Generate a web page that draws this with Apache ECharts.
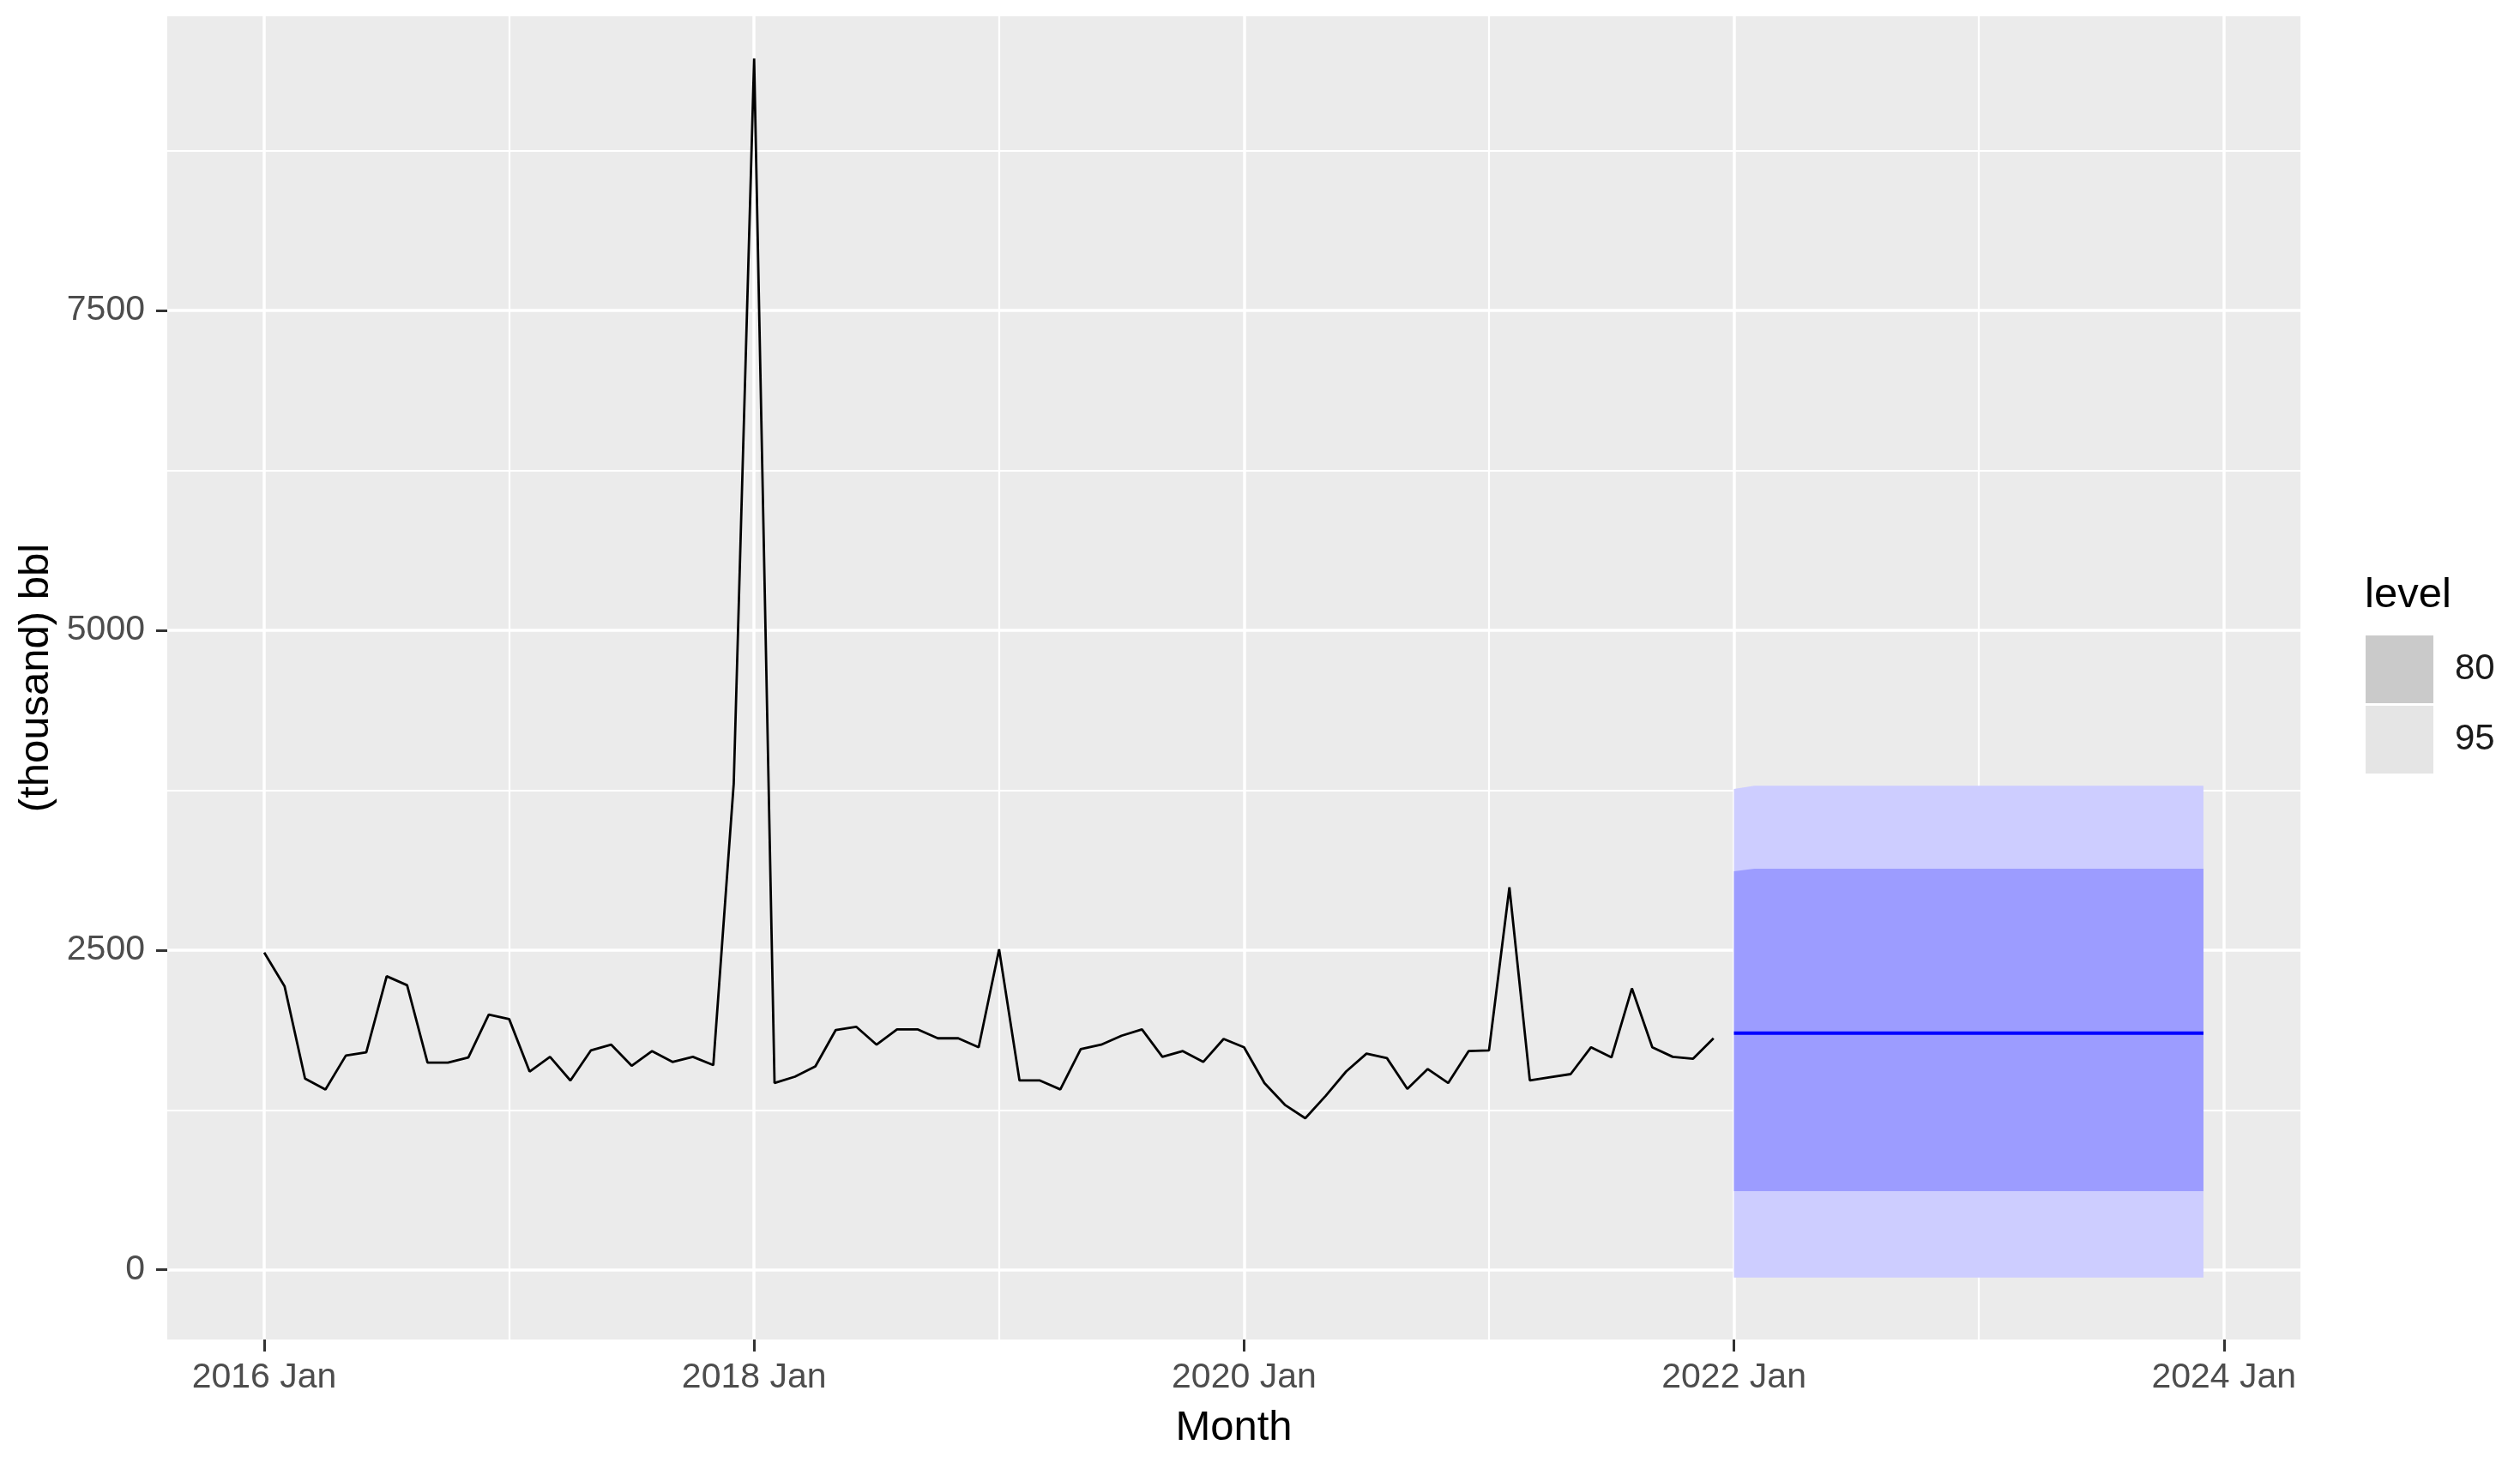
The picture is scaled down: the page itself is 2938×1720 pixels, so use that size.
<!DOCTYPE html>
<html>
<head>
<meta charset="utf-8">
<title>Forecast</title>
<script src="https://cdn.jsdelivr.net/npm/echarts@6/dist/echarts.min.js"></script>
<style>
  html, body { margin: 0; padding: 0; background: #fff; }
  #chart { width: 2938px; height: 1720px; }
</style>
</head>
<body>
<div id="chart"></div>
<script>
// monthly history, 2016 Jan .. 2021 Dec (thousand bbl)
const histValues = [
  2480, 2215, 1495, 1410, 1675, 1700, 2295, 2225, 1620, 1620, 1660, 1995,
  1960, 1550, 1665, 1480, 1715, 1760, 1595, 1710, 1625, 1665, 1600, 3800,
  9470, 1460, 1510, 1590, 1875, 1900, 1760, 1880, 1880, 1810, 1810, 1740,
  2505, 1480, 1480, 1410, 1725, 1760, 1830, 1880, 1665, 1710, 1625, 1805,
  1740, 1460, 1290, 1185, 1360, 1550, 1690, 1655, 1415, 1570, 1460, 1710,
  1715, 2990, 1480, 1505, 1530, 1740, 1660, 2200, 1740, 1665, 1650, 1810
]

// forecast, 2022 Jan .. 2023 Dec
const fcMean = [
  1850, 1850, 1850, 1850, 1850, 1850, 1850, 1850, 1850, 1850, 1850, 1850,
  1850, 1850, 1850, 1850, 1850, 1850, 1850, 1850, 1850, 1850, 1850, 1850
]
const fcHi80 = [
  3115, 3135, 3135, 3135, 3135, 3135, 3135, 3135, 3135, 3135, 3135, 3135,
  3135, 3135, 3135, 3135, 3135, 3135, 3135, 3135, 3135, 3135, 3135, 3135
]
const fcLo80 = [
  615, 615, 615, 615, 615, 615, 615, 615, 615, 615, 615, 615,
  615, 615, 615, 615, 615, 615, 615, 615, 615, 615, 615, 615
]
const fcHi95 = [
  3760, 3785, 3785, 3785, 3785, 3785, 3785, 3785, 3785, 3785, 3785, 3785,
  3785, 3785, 3785, 3785, 3785, 3785, 3785, 3785, 3785, 3785, 3785, 3785
]
const fcLo95 = [
  -60, -60, -60, -60, -60, -60, -60, -60, -60, -60, -60, -60,
  -60, -60, -60, -60, -60, -60, -60, -60, -60, -60, -60, -60
]

// x is months since 2016 Jan
const fcStart = histValues.length
const xTickValues = [0, 24, 48, 72, 96]
const xTickLabels = ['2016 Jan', '2018 Jan', '2020 Jan', '2022 Jan', '2024 Jan']
const xMinorValues = [12, 36, 60, 84]
const yTickValues = [0, 2500, 5000, 7500]
const yMinorValues = [1250, 3750, 6250, 8750]

const histData = histValues.map((v, i) => [i, v])
const fcMonths = fcMean.map((v, k) => fcStart + k)
const fcData = fcMean.map((v, k) => [fcMonths[k], v])

// one polygon per interval band, built on the first item
const band = (lo, hi, fill) => (params, api) => {
  if (params.dataIndex !== 0) return null
  const pts = []
  for (let k = 0; k < fcMonths.length; k++) pts.push(api.coord([fcMonths[k], hi[k]]))
  for (let k = fcMonths.length - 1; k >= 0; k--) pts.push(api.coord([fcMonths[k], lo[k]]))
  return { type: 'polygon', shape: { points: pts }, style: { fill: fill } }
}

const xMin = -4.75, xMax = 99.75
const yMin = -545, yMax = 9800
const font = 'Liberation Sans'

const chart = echarts.init(document.getElementById('chart'))

const option = {
  animation: false,
  backgroundColor: '#ffffff',
  textStyle: { fontFamily: font },
  title: {
    text: 'level',
    left: 2752,
    top: 665,
    textStyle: { fontSize: 49, fontWeight: 'normal', color: '#000', fontFamily: font }
  },
  legend: {
    left: 2758,
    top: 741,
    orient: 'vertical',
    itemWidth: 79,
    itemHeight: 79,
    itemGap: 3,
    selectedMode: false,
    padding: 0,
    data: [
      { name: '80', icon: 'rect', itemStyle: { color: '#cacaca' } },
      { name: '95', icon: 'rect', itemStyle: { color: '#e5e5e5' } }
    ],
    textStyle: { fontSize: 42, color: '#1a1a1a', padding: [0, 0, 0, 20], fontFamily: font }
  },
  grid: {
    left: 195,
    right: 256,
    top: 19,
    bottom: 158,
    show: true,
    backgroundColor: '#ebebeb',
    borderWidth: 0
  },
  xAxis: [
    {
      type: 'value',
      min: xMin,
      max: xMax,
      name: 'Month',
      nameLocation: 'middle',
      nameGap: 79,
      nameTextStyle: { fontSize: 49, color: '#000', fontFamily: font },
      axisLine: { show: false, onZero: false },
      axisTick: { show: true, length: 14, customValues: xTickValues, lineStyle: { color: '#333', width: 3 } },
      axisLabel: {
        customValues: xTickValues,
        fontSize: 41,
        color: '#4d4d4d',
        margin: 24,
        formatter: v => xTickLabels[xTickValues.indexOf(v)]
      },
      splitLine: { show: true, lineStyle: { color: '#ffffff', width: 3.5 } }
    },
    {
      type: 'value',
      min: xMin,
      max: xMax,
      position: 'bottom',
      axisLine: { show: false, onZero: false },
      axisTick: { show: false, customValues: xMinorValues },
      axisLabel: { show: false, customValues: xMinorValues },
      splitLine: { show: true, lineStyle: { color: '#ffffff', width: 2.2 } }
    }
  ],
  yAxis: [
    {
      type: 'value',
      min: yMin,
      max: yMax,
      name: '(thousand) bbl',
      nameLocation: 'middle',
      nameRotate: 90,
      nameGap: 127,
      nameTextStyle: { fontSize: 49, color: '#000', fontFamily: font },
      axisLine: { show: false, onZero: false },
      axisTick: { show: true, length: 13, customValues: yTickValues, lineStyle: { color: '#333', width: 3 } },
      axisLabel: {
        customValues: yTickValues,
        fontSize: 41,
        color: '#4d4d4d',
        margin: 26,
        formatter: v => String(v)
      },
      splitLine: { show: true, lineStyle: { color: '#ffffff', width: 3.5 } }
    },
    {
      type: 'value',
      min: yMin,
      max: yMax,
      position: 'left',
      axisLine: { show: false, onZero: false },
      axisTick: { show: false, customValues: yMinorValues },
      axisLabel: { show: false, customValues: yMinorValues },
      splitLine: { show: true, lineStyle: { color: '#ffffff', width: 2.2 } }
    }
  ],
  series: [
    {
      name: '95',
      type: 'custom',
      xAxisIndex: 0,
      yAxisIndex: 0,
      itemStyle: { color: '#e5e5e5' },
      renderItem: band(fcLo95, fcHi95, '#cdcdff'),
      data: fcMonths.map((m, k) => [m, fcLo95[k], fcHi95[k]]),
      encode: { x: 0, y: [1, 2] },
      silent: true,
      z: 2
    },
    {
      name: '80',
      type: 'custom',
      xAxisIndex: 0,
      yAxisIndex: 0,
      itemStyle: { color: '#cacaca' },
      renderItem: band(fcLo80, fcHi80, '#9c9cff'),
      data: fcMonths.map((m, k) => [m, fcLo80[k], fcHi80[k]]),
      encode: { x: 0, y: [1, 2] },
      silent: true,
      z: 3
    },
    {
      name: 'forecast',
      type: 'line',
      xAxisIndex: 0,
      yAxisIndex: 0,
      data: fcData,
      showSymbol: false,
      lineStyle: { color: '#0000ff', width: 4 },
      z: 4
    },
    {
      name: 'history',
      type: 'line',
      xAxisIndex: 0,
      yAxisIndex: 0,
      data: histData,
      showSymbol: false,
      lineStyle: { color: '#000000', width: 2.8 },
      z: 5
    }
  ]
}

chart.setOption(option)
</script>
</body>
</html>
